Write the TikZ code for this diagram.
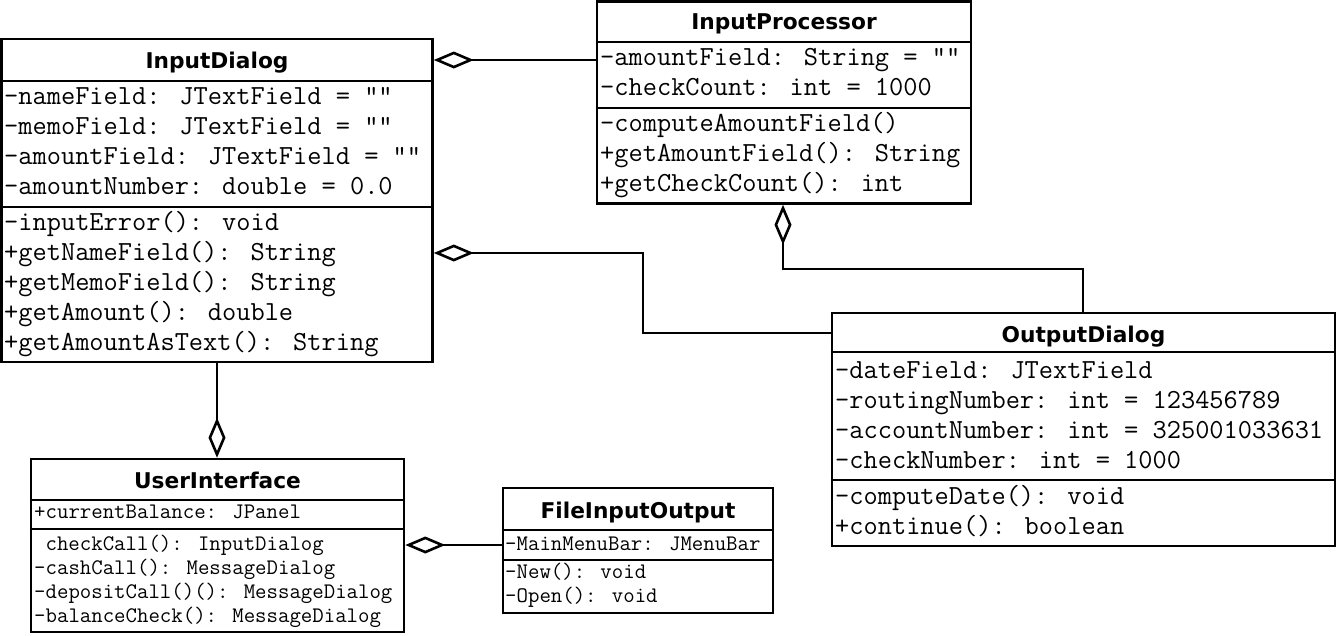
\documentclass[tikz,border=0pt]{standalone}
\usepackage{fontspec}
\setmainfont{DejaVu Sans}
\usetikzlibrary{arrows.meta}
\tikzset{
  box/.style={draw, line width=2.6pt, fill=white, inner sep=0pt},
  ttl/.style={anchor=base, inner sep=0pt, font=\fontsize{21.7}{24}\selectfont\bfseries},
  big/.style={anchor=base west, inner sep=0pt, font=\ttfamily\fontsize{27.6}{30}\selectfont},
  small/.style={anchor=base west, inner sep=0pt, font=\ttfamily\fontsize{22.2}{24}\selectfont},
  divl/.style={line width=2.6pt},
  agg/.style={line width=2.6pt, -{Diamond[open,length=40pt,width=17pt,line width=2.6pt]}}
}
\begin{document}
\begin{tikzpicture}[x=1pt,y=-1pt]
\useasboundingbox[fill=white] (0,0) rectangle (1337,635);

% ---------------- InputDialog
\node[box, minimum width=431, minimum height=323] (ID) at (217,200.5) {};
\node[ttl] (IDt) at (217,68) {InputDialog};
\draw[divl] (ID.west |- 0,81) -- (ID.east |- 0,81);
\draw[divl] (ID.west |- 0,207) -- (ID.east |- 0,207);
\node[big] (IDa1) at (4,104) {-nameField: JTextField = ""};
\node[big] (IDa2) at (4,134) {-memoField: JTextField = ""};
\node[big] (IDa3) at (4,164) {-amountField: JTextField = ""};
\node[big] (IDa4) at (4,194) {-amountNumber: double = 0.0};
\node[big] (IDm1) at (4,230) {-inputError(): void};
\node[big] (IDm2) at (4,260) {+getNameField(): String};
\node[big] (IDm3) at (4,290) {+getMemoField(): String};
\node[big] (IDm4) at (4,320) {+getAmount(): double};
\node[big] (IDm5) at (4,350) {+getAmountAsText(): String};

% ---------------- InputProcessor
\node[box, minimum width=374, minimum height=202] (IP) at (784,102.5) {};
\node[ttl] (IPt) at (784,29) {InputProcessor};
\draw[divl] (IP.west |- 0,42) -- (IP.east |- 0,42);
\draw[divl] (IP.west |- 0,108) -- (IP.east |- 0,108);
\node[big] (IPa1) at (600,65) {-amountField: String = ""};
\node[big] (IPa2) at (600,95) {-checkCount: int = 1000};
\node[big] (IPm1) at (600,131) {-computeAmountField()};
\node[big] (IPm2) at (600,161) {+getAmountField(): String};
\node[big] (IPm3) at (600,191) {+getCheckCount(): int};

% ---------------- OutputDialog
\node[box, minimum width=503, minimum height=233] (OD) at (1083.5,429.5) {};
\node[ttl] (ODt) at (1083.5,342) {OutputDialog};
\draw[divl] (OD.west |- 0,352) -- (OD.east |- 0,352);
\draw[divl] (OD.west |- 0,480) -- (OD.east |- 0,480);
\node[big] (ODa1) at (835,378) {-dateField: JTextField};
\node[big] (ODa2) at (835,408) {-routingNumber: int = 123456789};
\node[big] (ODa3) at (835,438) {-accountNumber: int = 325001033631};
\node[big] (ODa4) at (835,468) {-checkNumber: int = 1000};
\node[big] (ODm1) at (835,504) {-computeDate(): void};
\node[big] (ODm2) at (835,534) {+continue(): boolean};

% ---------------- UserInterface
\node[box, minimum width=373, minimum height=173] (UI) at (217.5,545.5) {};
\node[ttl] (UIt) at (217.5,488) {UserInterface};
\draw[divl] (UI.west |- 0,500) -- (UI.east |- 0,500);
\draw[divl] (UI.west |- 0,529) -- (UI.east |- 0,529);
\node[small] (UIa1) at (34,518) {+currentBalance: JPanel};
\node[small] (UIm1) at (34,550) {\ checkCall(): InputDialog};
\node[small] (UIm2) at (34,574) {-cashCall(): MessageDialog};
\node[small] (UIm3) at (34,598) {-depositCall()(): MessageDialog};
\node[small] (UIm4) at (34,622) {-balanceCheck(): MessageDialog};

% ---------------- FileInputOutput
\node[box, minimum width=270, minimum height=125] (FIO) at (638,550.5) {};
\node[ttl] (FIOt) at (638,518) {FileInputOutput};
\draw[divl] (FIO.west |- 0,530) -- (FIO.east |- 0,530);
\draw[divl] (FIO.west |- 0,560) -- (FIO.east |- 0,560);
\node[small] (FIOa1) at (505,550) {-MainMenuBar: JMenuBar};
\node[small] (FIOm1) at (505,578) {-New(): void};
\node[small] (FIOm2) at (505,602) {-Open(): void};

% ---------------- connectors
\coordinate (k0) at (0,60);
\coordinate (k1) at (643,253);
\coordinate (k2) at (643,333);
\coordinate (k3) at (783,269);
\coordinate (k4) at (1083,269);
\coordinate (k5) at (0,545);

\draw[agg] (IP.west |- k0) -- (ID.east |- k0);
\draw[agg] (OD.west |- k2) -- (k2) -- (k1) -- (ID.east |- k1);
\draw[agg] (OD.north -| k4) -- (k4) -- (k3) -- (IP.south -| k3);
\draw[agg] (ID.south) -- (UI.north -| ID.south);
\draw[agg] (FIO.west |- k5) -- (UI.east |- k5);
\end{tikzpicture}
\end{document}
